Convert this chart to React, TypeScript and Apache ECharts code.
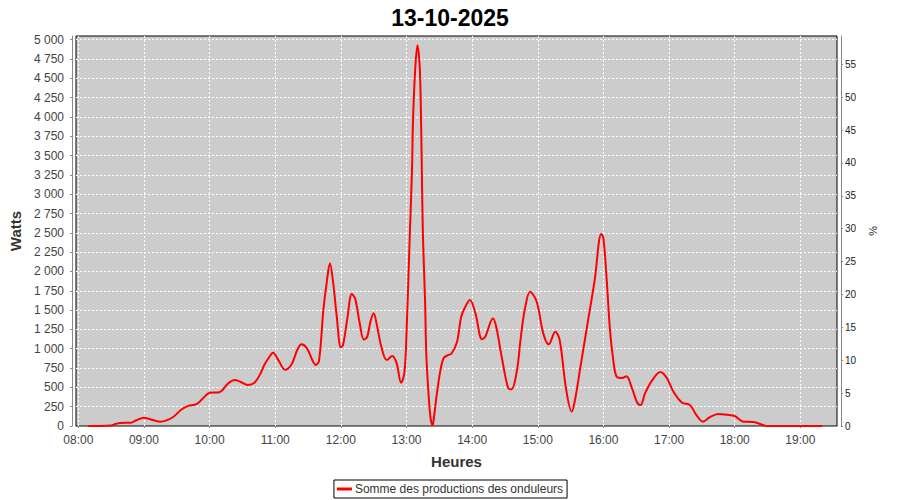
import React, { useEffect, useRef } from "react";
import * as echarts from "echarts";

const titleText = "13-10-2025";
const seriesName = "Somme des productions des onduleurs";

const times = [
  "08:09", "08:20", "08:30", "08:34", "08:38", "08:48", "08:53", "09:00", "09:05", "09:10",
  "09:15", "09:20", "09:27", "09:34", "09:40", "09:48", "09:54", "10:00", "10:09", "10:17",
  "10:23", "10:28", "10:35", "10:41", "10:46", "10:50", "10:54", "10:58", "11:03", "11:09",
  "11:15", "11:20", "11:24", "11:29", "11:34", "11:37", "11:40", "11:44", "11:47", "11:50",
  "11:53", "11:56", "12:00", "12:02", "12:06", "12:10", "12:13", "12:17", "12:21", "12:24",
  "12:27", "12:30", "12:33", "12:37", "12:42", "12:47", "12:51", "12:55", "12:58", "13:00",
  "13:03", "13:05", "13:06", "13:08", "13:10", "13:12", "13:13", "13:14", "13:15", "13:17",
  "13:18", "13:20", "13:22", "13:24", "13:25", "13:28", "13:31", "13:34", "13:38", "13:41",
  "13:46", "13:50", "13:53", "13:58", "14:03", "14:09", "14:12", "14:19", "14:22", "14:27",
  "14:33", "14:36", "14:41", "14:44", "14:48", "14:53", "14:59", "15:05", "15:10", "15:16",
  "15:20", "15:26", "15:31", "15:34", "15:39", "15:45", "15:52", "15:58", "16:00", "16:03",
  "16:06", "16:09", "16:12", "16:17", "16:21", "16:26", "16:31", "16:34", "16:38", "16:45",
  "16:52", "16:58", "17:04", "17:12", "17:19", "17:25", "17:31", "17:37", "17:45", "17:53",
  "18:00", "18:08", "18:17", "18:26", "18:30", "19:20",
];

const watts = [
  0, 0, 5, 25, 40, 42, 75, 108, 90, 70,
  56, 70, 120, 210, 258, 282, 358, 430, 438, 552,
  595, 573, 532, 560, 665, 790, 880, 948, 850, 728,
  800, 980, 1057, 1005, 850, 790, 840, 1500, 1850, 2105,
  1850, 1450, 1018, 1048, 1400, 1708, 1652, 1350, 1120, 1150,
  1350, 1458, 1300, 1026, 854, 906, 811, 560, 682, 1200,
  2471, 3300, 3980, 4630, 4929, 4670, 4195, 3334, 2471, 1608,
  961, 444, 100, 10, 100, 444, 720, 880, 918, 935,
  1080, 1414, 1522, 1630, 1458, 1122, 1155, 1393, 1285, 897,
  488, 475, 724, 1090, 1500, 1737, 1608, 1199, 1057, 1220,
  1113, 466, 185, 336, 767, 1285, 1889, 2484, 2430, 1889,
  1242, 854, 640, 621, 645, 492, 298, 272, 423, 600,
  698, 620, 444, 301, 272, 142, 56, 112, 155, 146,
  129, 56, 52, 13, 0, 0,
];

const hourTicks = ["08:00", "09:00", "10:00", "11:00", "12:00", "13:00", "14:00", "15:00", "16:00", "17:00", "18:00", "19:00"];
const wattTicks = [0, 250, 500, 750, 1000, 1250, 1500, 1750, 2000, 2250, 2500, 2750, 3000, 3250, 3500, 3750, 4000, 4250, 4500, 4750, 5000];
const percentTicks = [0, 5, 10, 15, 20, 25, 30, 35, 40, 45, 50, 55];

const toMin = (s: string) => {
  const [h, m] = s.split(":").map(Number);
  return h * 60 + m;
};
const fmtMin = (v: number) => {
  const h = Math.floor(v / 60);
  const m = Math.round(v - h * 60);
  return `${String(h).padStart(2, "0")}:${String(m).padStart(2, "0")}`;
};
const fmtW = (v: number) =>
  v >= 1000 ? `${Math.floor(v / 1000)} ${String(v % 1000).padStart(3, "0")}` : String(v);

export default function App() {
  const ref = useRef<HTMLDivElement>(null);
  useEffect(() => {
    if (!ref.current) return;
    const chart = echarts.init(ref.current, undefined, { renderer: "svg" });
    const xTicks = hourTicks.map(toMin);
    const data = times.map((t, i) => [toMin(t), watts[i]]);
    const font = "Liberation Sans";
    chart.setOption({
      animation: false,
      backgroundColor: "#ffffff",
      title: {
        text: titleText,
        left: "center",
        top: 1,
        textStyle: { fontFamily: font, fontSize: 23, fontWeight: "bold", color: "#000" },
      },
      legend: {
        data: [seriesName],
        bottom: 2,
        left: "center",
        icon: "rect",
        itemWidth: 15,
        itemHeight: 3,
        itemGap: 3,
        padding: [3, 4, 3, 3],
        borderColor: "#000",
        borderWidth: 1,
        borderRadius: 0,
        textStyle: { fontFamily: font, fontSize: 12, color: "#333", padding: [0, 0, 0, -2] },
      },
      grid: {
        left: 76,
        right: 63,
        top: 36,
        bottom: 74,
        show: true,
        backgroundColor: "#cccccc",
        borderColor: "#000",
        borderWidth: 1,
        containLabel: false,
      },
      xAxis: {
        type: "value",
        min: 477.9,
        max: 1173.5,
        offset: 4,
        name: "Heures",
        nameLocation: "middle",
        nameGap: 24,
        nameTextStyle: { fontFamily: font, fontSize: 15, fontWeight: "bold", color: "#333" },
        axisLine: { show: true, lineStyle: { color: "#888", width: 1 } },
        axisTick: { show: true, length: 2, customValues: xTicks, lineStyle: { color: "#888" } },
        axisLabel: {
          customValues: xTicks,
          formatter: (v: number) => fmtMin(v),
          margin: 4,
          fontFamily: font,
          fontSize: 12,
          color: "#444",
        },
        splitLine: { show: true, lineStyle: { color: "#ffffff", type: [2, 2], width: 1 } },
      },
      yAxis: [
        {
          type: "value",
          min: 0,
          max: 5048,
          offset: 4,
          name: "Watts",
          nameLocation: "middle",
          nameRotate: 90,
          nameGap: 42,
          nameTextStyle: { fontFamily: font, fontSize: 15, fontWeight: "bold", color: "#333" },
          axisLine: { show: true, lineStyle: { color: "#888", width: 1 } },
          axisTick: { show: true, length: 2, customValues: wattTicks, lineStyle: { color: "#888" } },
          axisLabel: {
            customValues: wattTicks,
            formatter: (v: number) => fmtW(v),
            margin: 8,
            fontFamily: font,
            fontSize: 12,
            color: "#444",
          },
          splitLine: { show: true, lineStyle: { color: "#ffffff", type: [2, 2], width: 1 } },
        },
        {
          type: "value",
          position: "right",
          min: 0,
          max: 59.3,
          offset: 4,
          name: "%",
          nameLocation: "middle",
          nameRotate: -90,
          nameGap: 26,
          nameTextStyle: { fontFamily: font, fontSize: 11, color: "#222" },
          axisLine: { show: true, lineStyle: { color: "#888", width: 1 } },
          axisTick: { show: true, length: 2, customValues: percentTicks, lineStyle: { color: "#888" } },
          axisLabel: {
            customValues: percentTicks,
            margin: 4,
            fontFamily: font,
            fontSize: 10,
            color: "#222",
          },
          splitLine: { show: false },
        },
      ],
      series: [
        {
          name: seriesName,
          type: "line",
          yAxisIndex: 0,
          data,
          smooth: 0.35,
          symbol: "none",
          lineStyle: { color: "#ff0000", width: 2 },
          itemStyle: { color: "#ff0000" },
        },
      ],
    });
    return () => chart.dispose();
  }, []);
  return (
    <div
      ref={ref}
      style={{ position: "fixed", left: 0, top: 0, width: 900, height: 500 }}
    />
  );
}
